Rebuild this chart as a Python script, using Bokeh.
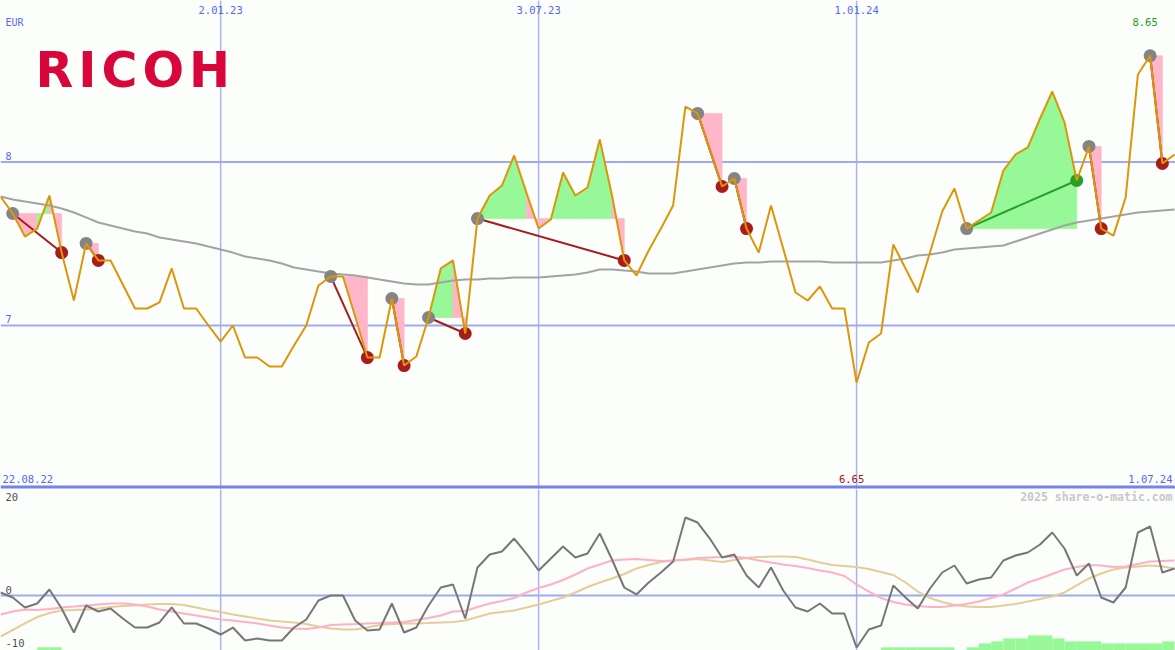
import numpy as np
import pandas as pd
from bokeh.plotting import figure
from bokeh.layouts import column
from bokeh.models import Range1d, Span
from bokeh.core.properties import value
from bokeh.embed import file_html
from bokeh.resources import INLINE

# ---------------- data ----------------
dates = pd.date_range("2022-08-29", periods=97, freq="7D")

price = [7.789, 7.685, 7.544, 7.593, 7.795, 7.446, 7.153, 7.502, 7.398, 7.398,
         7.251, 7.104, 7.104, 7.141, 7.349, 7.104, 7.104, 7.000, 6.902, 7.000,
         6.804, 6.804, 6.749, 6.749, 6.878, 7.000, 7.245, 7.300, 7.300, 7.055,
         6.804, 6.804, 7.165, 6.755, 6.810, 7.049, 7.349, 7.398, 6.951, 7.654,
         7.795, 7.856, 8.040, 7.813, 7.593, 7.648, 7.936, 7.795, 7.844, 8.138,
         7.795, 7.398, 7.306, 7.459, 7.593, 7.734, 8.339, 8.297, 8.076, 7.850,
         7.899, 7.593, 7.446, 7.734, 7.471, 7.202, 7.153, 7.239, 7.104, 7.104,
         6.651, 6.896, 6.951, 7.495, 7.349, 7.202, 7.446, 7.697, 7.838, 7.593,
         7.642, 7.691, 7.948, 8.046, 8.089, 8.266, 8.431, 8.242, 7.887, 8.095,
         7.593, 7.550, 7.783, 8.535, 8.650, 7.991, 8.046]

ma40 = [7.789, 7.771, 7.758, 7.746, 7.734, 7.716, 7.691, 7.661, 7.630, 7.612,
        7.593, 7.575, 7.563, 7.538, 7.526, 7.514, 7.502, 7.483, 7.465, 7.446,
        7.422, 7.410, 7.398, 7.379, 7.355, 7.343, 7.330, 7.318, 7.312, 7.306,
        7.294, 7.281, 7.269, 7.257, 7.251, 7.251, 7.263, 7.275, 7.281, 7.281,
        7.287, 7.287, 7.294, 7.294, 7.294, 7.300, 7.306, 7.312, 7.324, 7.343,
        7.343, 7.336, 7.330, 7.318, 7.318, 7.318, 7.330, 7.343, 7.355, 7.367,
        7.379, 7.385, 7.385, 7.391, 7.391, 7.391, 7.391, 7.391, 7.385, 7.385,
        7.385, 7.385, 7.385, 7.398, 7.410, 7.428, 7.434, 7.446, 7.465, 7.471,
        7.477, 7.483, 7.489, 7.514, 7.538, 7.563, 7.587, 7.612, 7.630, 7.642,
        7.654, 7.667, 7.679, 7.691, 7.697, 7.703, 7.709]

momentum = [0.57, -0.38, -2.26, -1.51, 1.13, -2.45, -6.98, -1.89, -3.02, -2.45,
            -4.34, -6.04, -6.04, -5.09, -2.26, -5.28, -5.28, -6.23, -7.36, -6.04,
            -8.49, -8.11, -8.49, -8.49, -6.04, -4.53, -0.94, 0.0, 0.0, -4.72,
            -6.60, -6.42, -1.51, -6.98, -6.04, -1.89, 1.51, 2.08, -4.34, 5.28,
            7.74, 8.30, 10.75, 7.92, 4.72, 6.98, 9.25, 7.17, 7.92, 11.70,
            6.79, 1.51, 0.19, 2.45, 4.34, 6.42, 14.72, 13.77, 10.75, 7.17,
            7.74, 3.77, 1.51, 5.28, 0.94, -2.26, -3.02, -1.51, -3.40, -3.40,
            -9.81, -6.42, -5.66, 1.89, -0.38, -2.45, 1.32, 4.34, 5.66, 2.26,
            3.02, 3.40, 6.60, 7.55, 8.11, 9.62, 11.89, 8.87, 3.77, 6.04,
            -0.38, -1.32, 1.51, 11.89, 13.02, 4.34, 5.09]

signal_pink = [-3.58, -3.02, -2.64, -2.74, -2.55, -2.26, -2.08, -1.89, -1.70, -1.51,
               -1.51, -1.70, -2.08, -2.64, -3.02, -3.40, -3.77, -4.15, -4.53, -4.72,
               -5.00, -5.28, -5.66, -6.04, -6.23, -6.32, -6.04, -5.57, -5.47, -5.38,
               -5.28, -5.19, -5.09, -5.00, -4.62, -4.25, -3.77, -3.02, -2.92, -2.17,
               -1.51, -1.04, -0.47, 0.57, 1.42, 2.08, 2.92, 3.96, 5.09, 5.85,
               6.60, 6.79, 6.89, 6.70, 6.51, 6.60, 6.79, 7.08, 7.17, 7.26,
               7.36, 7.08, 6.60, 6.23, 5.85, 5.57, 5.19, 4.72, 4.34, 3.68,
               2.08, 0.75, -0.47, -1.23, -1.70, -1.98, -2.17, -2.17, -1.89, -1.60,
               -1.13, -0.47, 0.19, 1.32, 2.45, 3.21, 4.06, 4.91, 5.38, 5.75,
               5.66, 5.38, 5.47, 5.94, 6.42, 6.51, 6.60]

signal_tan = [-7.74, -6.51, -5.28, -4.06, -3.30, -2.83, -2.74, -2.64, -2.45, -2.17,
              -1.98, -1.89, -1.70, -1.60, -1.60, -1.79, -2.26, -2.74, -3.11, -3.58,
              -3.96, -4.34, -4.72, -4.91, -5.09, -5.38, -5.85, -6.23, -6.42, -6.42,
              -6.04, -5.57, -5.38, -5.28, -5.28, -5.19, -5.09, -5.00, -4.72, -4.06,
              -3.40, -3.11, -2.83, -2.26, -1.70, -1.04, -0.38, 0.57, 1.60, 2.45,
              3.21, 4.06, 5.09, 5.75, 6.32, 6.60, 6.70, 6.89, 6.60, 6.32,
              6.70, 7.08, 7.26, 7.36, 7.36, 7.26, 6.79, 6.23, 5.75, 5.57,
              5.38, 5.00, 4.43, 3.87, 2.45, 0.75, -0.47, -1.23, -1.79, -2.08,
              -2.17, -2.17, -1.89, -1.60, -1.13, -0.66, -0.19, 0.57, 1.89, 3.21,
              4.15, 4.91, 5.28, 5.47, 5.66, 5.47, 5.09]

# weekly histogram (week k -> k+1)
hist = [0, 0, 0, 0.57, 0.57, 0, 0, 0, 0, 0,
        0, 0, 0, 0, 0, 0, 0, 0, 0, 0,
        0, 0, 0, 0, 0, 0, 0, 0, 0, 0,
        0, 0, 0, 0, 0, 0, 0, 0, 0, 0,
        0, 0, 0, 0, 0, 0, 0, 0, 0, 0,
        0, 0, 0, 0, 0, 0, 0, 0, 0, 0,
        0, 0, 0, 0, 0, 0, 0, 0, 0, 0,
        0, 0, 0.57, 0.57, 0.57, 0.57, 0.57, 0.57, 0, 0.57,
        1.32, 1.70, 2.26, 2.26, 2.83, 2.83, 2.26, 1.70, 1.70, 1.70,
        1.32, 1.32, 1.32, 1.32, 1.32, 1.70]

trade_start = [1, 7, 27, 32, 35, 39, 57, 60, 79, 89, 94]
trade_end = [5, 8, 30, 33, 38, 51, 59, 61, 88, 90, 95]

date_marks = ["2023-01-02", "2023-07-03", "2024-01-01"]
date_mark_labels = ["2.01.23", "3.07.23", "1.01.24"]
range_labels = ["22.08.22", "1.07.24"]
price_ticks = [7, 8]
ind_ticks = [20, 0, -10]
currency = "EUR"
company = "RICOH"
credit = "2025 share-o-matic.com"

# ---------------- styling / geometry ----------------
BG = "#fbfefb"
BLUE_TXT = "#5468f0"
GRID_H = "#a0aaf2"
GRID_V = "#a8b4f2"
FONT = value("DejaVu Sans Mono")

W, H1, H2 = 1175, 489, 161
xs = dates.values.astype("datetime64[ms]").astype("int64").astype(float)
WEEK = xs[1] - xs[0]
PXW = 12.23  # px per week


def rx(px):
    return xs[0] + px * WEEK / PXW


def ry(py):
    return 7 + (325 - py) / 163.5


def iy(py):
    return (595 - py) / 5.3


xr = Range1d(rx(0), rx(1175))

main = figure(width=W, height=H1, x_range=xr, y_range=Range1d(ry(489), ry(0)),
              output_backend="svg", toolbar_location=None, min_border=0,
              background_fill_color=BG, border_fill_color=BG, outline_line_color=None)
ind = figure(width=W, height=H2, x_range=xr, y_range=Range1d(iy(650), iy(489)),
             output_backend="svg", toolbar_location=None, min_border=0,
             background_fill_color=BG, border_fill_color=BG, outline_line_color=None)
for f in (main, ind):
    f.axis.visible = False
    f.grid.visible = False

dm = pd.to_datetime(date_marks).values.astype("datetime64[ms]").astype("int64").astype(float)

# grid lines (behind the data)
for f in (main, ind):
    for d in dm:
        f.add_layout(Span(location=d, dimension="height", line_color=GRID_V, line_width=1.5,
                          level="underlay"))
for t in price_ticks:
    main.add_layout(Span(location=t, dimension="width", line_color=GRID_H, line_width=2,
                         level="underlay"))
ind.add_layout(Span(location=0, dimension="width", line_color=GRID_H, line_width=2,
                    level="underlay"))
main.add_layout(Span(location=ry(486.5), dimension="width", line_color="#7484ec", line_width=3,
                     level="underlay"))

# ---------------- main chart ----------------
p = np.array(price)
pxs, pys, pcol = [], [], []
for s, e in zip(trade_start, trade_end):
    entry = p[s]
    for i in range(s, e):
        pxs.append([xs[i], xs[i], xs[i + 1], xs[i + 1]])
        pys.append([entry, p[i], p[i + 1], entry])
        pcol.append("#96f896" if p[i + 1] >= entry else "#ffb6c9")
main.patches(pxs, pys, fill_color=pcol, line_color=pcol, line_width=0.7)

main.line(xs, ma40, line_color="#a3a3a3", line_width=2)

win = [p[e] > p[s] for s, e in zip(trade_start, trade_end)]
tcol = ["#24a024" if w else "#a41c1c" for w in win]
main.segment(x0=xs[trade_start], y0=p[trade_start], x1=xs[trade_end], y1=p[trade_end],
             line_color=tcol, line_width=2)
main.scatter(xs[trade_start], p[trade_start], size=13, fill_color="#848484", line_color=None)
ecol = ["#24a024" if w else "#a81c1c" for w in win]
main.scatter(xs[trade_end], p[trade_end], size=13, fill_color=ecol, line_color=None)

main.line(xs, price, line_color="#dc960a", line_width=2)

# texts main
main.text(x=[rx(5)], y=[ry(21.5)], text=[currency], text_font=FONT, text_font_size="10px",
          text_color=BLUE_TXT, text_align="left", text_baseline="middle")
main.text(x=list(dm), y=[ry(9)] * len(dm), text=date_mark_labels, text_font=FONT,
          text_font_size="10.5px", text_color=BLUE_TXT, text_align="center", text_baseline="middle")
main.text(x=[rx(5)] * len(price_ticks), y=[t + 6.5 / 163.5 for t in price_ticks],
          text=[str(t) for t in price_ticks], text_font=FONT, text_font_size="10px",
          text_color=BLUE_TXT, text_align="left", text_baseline="middle")
imax, imin = int(np.argmax(p)), int(np.argmin(p))
main.text(x=[xs[imax] - 5 * WEEK / PXW], y=[ry(21)], text=[f"{p[imax]:.2f}"], text_font=FONT,
          text_font_size="10.5px", text_color="#1e9a1e", text_align="center", text_baseline="middle")
main.text(x=[xs[imin] - 5 * WEEK / PXW], y=[ry(478.5)], text=[f"{p[imin]:.2f}"], text_font=FONT,
          text_font_size="10.5px", text_color="#a01414", text_align="center", text_baseline="middle")
main.text(x=[rx(2)], y=[ry(478.5)], text=[range_labels[0]], text_font=FONT, text_font_size="10.5px",
          text_color=BLUE_TXT, text_align="left", text_baseline="middle")
main.text(x=[rx(1172)], y=[ry(478.5)], text=[range_labels[1]], text_font=FONT, text_font_size="10.5px",
          text_color=BLUE_TXT, text_align="right", text_baseline="middle")

# logo: letters spaced out to the wide logo proportions
LOGO_SIZE = 49
adv = {"R": 0.770, "I": 0.372, "C": 0.734, "O": 0.850, "H": 0.837}
lx, cur = [], 35.0
for ch in company:
    lx.append(rx(cur))
    cur += adv[ch] * LOGO_SIZE + 5.0
main.text(x=lx, y=[ry(70)] * len(company), text=list(company), text_font=value("DejaVu Sans"),
          text_font_size=f"{LOGO_SIZE}px", text_font_style="bold", text_color="#d8063a",
          text_align="left", text_baseline="alphabetic")

# ---------------- indicator ----------------
h = np.array(hist)
base = iy(652)
ind.quad(left=xs[:-1], right=xs[1:], bottom=[base] * len(h), top=base + 0.4 + h,
         fill_color="#98f898", line_color=None,
         fill_alpha=np.where(h > 0, 1.0, 0.0).tolist())
ind.line(xs, signal_tan, line_color="#e6cd98", line_width=2)
ind.line(xs, signal_pink, line_color="#ffb0c8", line_width=2)
ind.line(xs, momentum, line_color="#777777", line_width=2)

ind.text(x=[rx(5)] * 3, y=[iy(496), iy(589), iy(642.5)], text=[str(t) for t in ind_ticks],
         text_font=FONT, text_font_size="10.5px", text_color="#505050",
         text_align="left", text_baseline="middle")
ind.text(x=[rx(1172)], y=[iy(496.5)], text=[credit], text_font=FONT, text_font_size="11.5px",
         text_font_style="bold", text_color="#c8c8c8", text_align="right", text_baseline="middle")

layout = column(main, ind, spacing=0)
open("out.html", "w").write(file_html(layout, INLINE))
